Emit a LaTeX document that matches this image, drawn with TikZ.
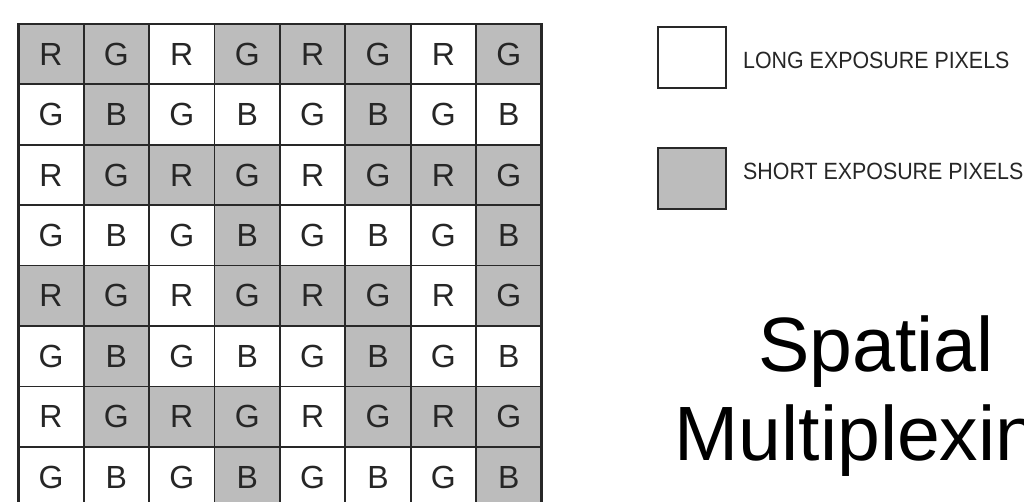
\documentclass[tikz,border=0pt]{standalone}
\usepackage{fontspec}
\setmainfont{Liberation Sans}
\newfontfamily\legendfont[FakeStretch=0.91]{Liberation Sans}
\definecolor{shortc}{RGB}{188,188,188}
\definecolor{linec}{RGB}{40,40,40}
\begin{document}
\begin{tikzpicture}[x=1pt,y=-1pt,
  cell/.style={draw=linec, line width=1.8pt, minimum width=65.4pt, minimum height=60.4pt,
    inner sep=0pt, outer sep=0pt, text=black!85, font=\fontsize{32}{32}\selectfont},
  g0/.style={fill=white},
  g1/.style={fill=shortc},
  legbox/.style={draw=linec, line width=1.8pt, minimum width=68pt, minimum height=61pt, inner sep=0pt},
  legtext/.style={anchor=west, inner sep=0pt, font=\legendfont\fontsize{23.5}{23.5}\selectfont, text=black!85},
  bigtext/.style={anchor=base, inner sep=0pt, font=\fontsize{77}{77}\selectfont}]
\useasboundingbox (0,0) rectangle (1024,502);
\clip (0,0) rectangle (1024,502);
\fill[white] (0,0) rectangle (1024,502);
\foreach \r/\row in {
  0/{R/1,G/1,R/0,G/1,R/1,G/1,R/0,G/1},
  1/{G/0,B/1,G/0,B/0,G/0,B/1,G/0,B/0},
  2/{R/0,G/1,R/1,G/1,R/0,G/1,R/1,G/1},
  3/{G/0,B/0,G/0,B/1,G/0,B/0,G/0,B/1},
  4/{R/1,G/1,R/0,G/1,R/1,G/1,R/0,G/1},
  5/{G/0,B/1,G/0,B/0,G/0,B/1,G/0,B/0},
  6/{R/0,G/1,R/1,G/1,R/0,G/1,R/1,G/1},
  7/{G/0,B/0,G/0,B/1,G/0,B/0,G/0,B/1}} {
  \foreach \L/\g [count=\c from 0] in \row {
    \node[cell, g\g] (c\r\c) at ({18.3+65.4*(\c+0.5)}, {24+60.4*(\r+0.5)}) {\L};
  }
}
\draw[draw=linec, line width=2.6pt] (c00.north west) rectangle (c77.south east);
% legend
\node[legbox, fill=white] (longbox) at (692,57.2) {};
\node[legbox, fill=shortc] (shortbox) at (692,178.5) {};
\node[legtext] (longtxt) at (743,60) {LONG EXPOSURE PIXELS};
\node[legtext] (shorttxt) at (743,171.5) {SHORT EXPOSURE PIXELS};
% title
\node[bigtext] (title1) at (876,371.7) {Spatial};
\node[bigtext] (title2) at (878,460) {Multiplexing};
\end{tikzpicture}
\end{document}
